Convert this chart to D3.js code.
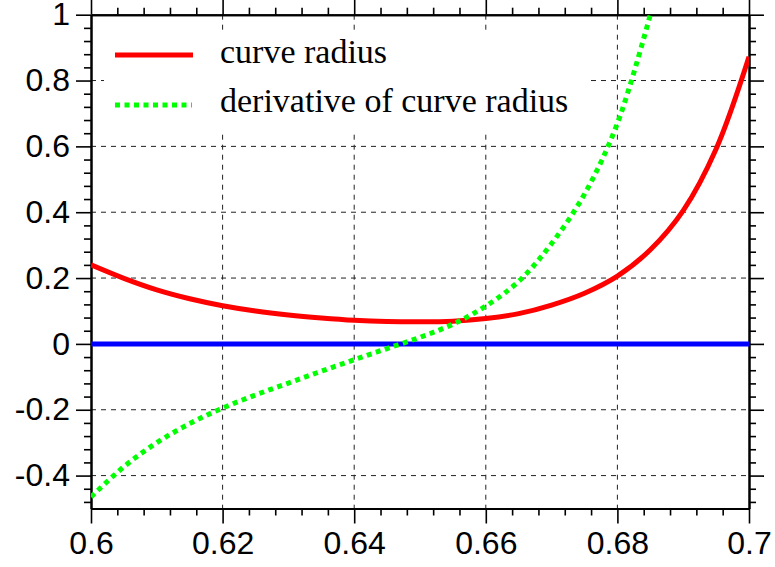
<!DOCTYPE html>
<html>
<head>
<meta charset="utf-8">
<script src="https://cdn.jsdelivr.net/npm/d3@7"></script>
<style>
  body { margin: 0; background: #fff; }
  svg { display: block; }
</style>
</head>
<body>
<div id="chart"></div>
<script>
// x positions (step 0.005)
var xs = [0.600, 0.605, 0.610, 0.615, 0.620, 0.625, 0.630, 0.635, 0.640, 0.645,
          0.650, 0.655, 0.660, 0.665, 0.670, 0.675, 0.680, 0.685, 0.690, 0.695, 0.700];
// curve radius
var radius = [0.240, 0.199, 0.164, 0.137, 0.116, 0.100, 0.088, 0.079, 0.072, 0.068,
              0.067, 0.069, 0.077, 0.092, 0.118, 0.154, 0.206, 0.286, 0.405, 0.592, 0.872];
// derivative of curve radius (runs off the top after 0.685)
var deriv = [-0.465, -0.373, -0.300, -0.242, -0.195, -0.155, -0.119, -0.083, -0.048, -0.014,
             0.020, 0.060, 0.115, 0.190, 0.305, 0.455, 0.670, 1.000];
var xMajor = [0.6, 0.62, 0.64, 0.66, 0.68, 0.7];
var yMajor = [-0.4, -0.2, 0, 0.2, 0.4, 0.6, 0.8, 1];
var legendLabels = ["curve radius", "derivative of curve radius"];

var w = 775, h = 567;
var padL = 91, padR = 749, padT = 14.7, padB = 508.5;

var svg = d3.select("#chart").append("svg")
    .attr("width", w)
    .attr("height", h);

var x = d3.scaleLinear().domain([0.6, 0.7]).range([padL, padR]);
var y = d3.scaleLinear().domain([-0.5, 1]).range([padB, padT]);

// minor ticks every 0.004 / 0.04
var xMinor = d3.range(0, 26).map(i => +(0.6 + i * 0.004).toFixed(3))
    .filter(v => xMajor.every(m => Math.abs(m - v) > 1e-6));
var yMinor = d3.range(-12, 26).map(i => +(i * 0.04).toFixed(2))
    .filter(v => v >= -0.5 && v <= 1 && yMajor.every(m => Math.abs(m - v) > 1e-6));

svg.append("clipPath").attr("id", "plot")
  .append("rect")
    .attr("x", padL).attr("y", padT)
    .attr("width", padR - padL).attr("height", padB - padT);

// grid
var grid = svg.append("g")
    .attr("stroke", "#222")
    .attr("stroke-width", 1)
    .attr("stroke-dasharray", "5,5");
grid.selectAll("line.gx")
    .data(xMajor.slice(1, -1))
    .enter().append("line")
    .attr("x1", d => x(d)).attr("x2", d => x(d))
    .attr("y1", padT).attr("y2", padB);
grid.selectAll("line.gy")
    .data(yMajor.filter(v => v !== 0 && v !== 1))
    .enter().append("line")
    .attr("x1", padL).attr("x2", padR)
    .attr("y1", d => y(d)).attr("y2", d => y(d));

// legend box hides the grid
svg.append("rect")
    .attr("x", 104).attr("y", 31)
    .attr("width", 482).attr("height", 102)
    .attr("fill", "#fff");

// axes
function styleAxis(g) {
    g.selectAll(".domain").attr("stroke", "#000").attr("stroke-width", 2);
    g.selectAll(".tick line").attr("stroke", "#000").attr("stroke-width", 1.6);
    g.selectAll("text")
        .attr("fill", "#000")
        .style("font-family", "'Liberation Sans', Arial, sans-serif")
        .style("font-size", "32px");
}

svg.append("g")
    .attr("transform", `translate(0,${padB})`)
    .call(d3.axisBottom(x).tickValues(xMinor).tickSize(7).tickSizeOuter(0).tickFormat(""))
    .call(styleAxis);
svg.append("g")
    .attr("transform", `translate(0,${padB})`)
    .call(d3.axisBottom(x).tickValues(xMajor).tickSize(15).tickSizeOuter(0).tickPadding(8)
        .tickFormat(d3.format("")))
    .call(styleAxis);

svg.append("g")
    .attr("transform", `translate(0,${padT})`)
    .call(d3.axisTop(x).tickValues(xMinor).tickSize(7).tickSizeOuter(0).tickFormat(""))
    .call(styleAxis);
svg.append("g")
    .attr("transform", `translate(0,${padT})`)
    .call(d3.axisTop(x).tickValues(xMajor).tickSize(15).tickSizeOuter(0).tickFormat(""))
    .call(styleAxis);

svg.append("g")
    .attr("transform", `translate(${padL},0)`)
    .call(d3.axisLeft(y).tickValues(yMinor).tickSize(7).tickSizeOuter(0).tickFormat(""))
    .call(styleAxis);
svg.append("g")
    .attr("transform", `translate(${padL},0)`)
    .call(d3.axisLeft(y).tickValues(yMajor).tickSize(15).tickSizeOuter(0).tickPadding(6)
        .tickFormat(d => d3.format("")(d).replace("\u2212", "-")))
    .call(styleAxis);

svg.append("g")
    .attr("transform", `translate(${padR},0)`)
    .call(d3.axisRight(y).tickValues(yMinor).tickSize(7).tickSizeOuter(0).tickFormat(""))
    .call(styleAxis);
svg.append("g")
    .attr("transform", `translate(${padR},0)`)
    .call(d3.axisRight(y).tickValues(yMajor).tickSize(15).tickSizeOuter(0).tickFormat(""))
    .call(styleAxis);

// curves
var plot = svg.append("g").attr("clip-path", "url(#plot)");

plot.append("line")
    .attr("x1", x(0.6)).attr("x2", x(0.7))
    .attr("y1", y(0)).attr("y2", y(0))
    .attr("stroke", "#0000ff")
    .attr("stroke-width", 5);

var line = d3.line()
    .x(d => x(d[0]))
    .y(d => y(d[1]))
    .curve(d3.curveCatmullRom.alpha(0.5));

plot.append("path")
    .datum(xs.map((v, i) => [v, radius[i]]))
    .attr("d", line)
    .attr("fill", "none")
    .attr("stroke", "#ff0000")
    .attr("stroke-width", 5);

plot.append("path")
    .datum(deriv.map((v, i) => [xs[i], v]))
    .attr("d", line)
    .attr("fill", "none")
    .attr("stroke", "#00ff00")
    .attr("stroke-width", 5)
    .attr("stroke-dasharray", "5,4.5");

// legend
var legend = svg.append("g");
legend.append("line")
    .attr("x1", 115).attr("x2", 193)
    .attr("y1", 55).attr("y2", 55)
    .attr("stroke", "#ff0000").attr("stroke-width", 5);
legend.append("line")
    .attr("x1", 115).attr("x2", 192)
    .attr("y1", 105).attr("y2", 105)
    .attr("stroke", "#00ff00").attr("stroke-width", 5)
    .attr("stroke-dasharray", "5,4.5");
legend.selectAll("text")
    .data(legendLabels)
    .enter().append("text")
    .attr("x", 220)
    .attr("y", (d, i) => 63 + i * 49)
    .style("font-family", "'Liberation Serif', 'Times New Roman', serif")
    .style("font-size", "34px")
    .attr("fill", "#000")
    .text(d => d);
</script>
</body>
</html>
